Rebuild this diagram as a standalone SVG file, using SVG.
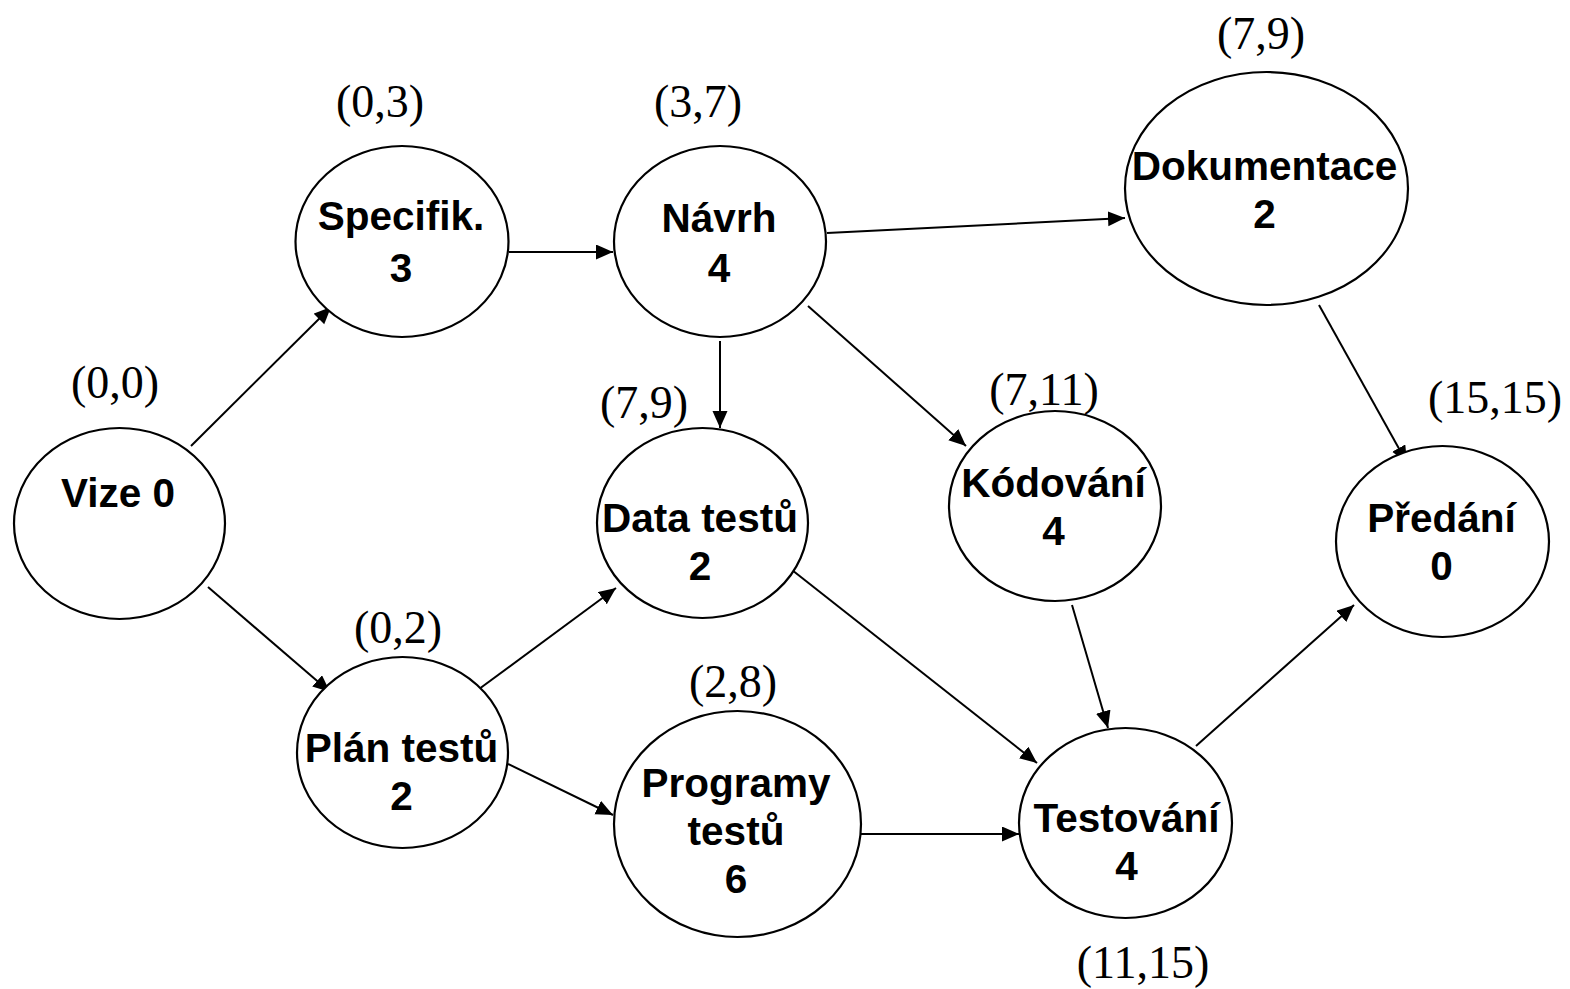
<svg xmlns="http://www.w3.org/2000/svg" width="1570" height="989" viewBox="0 0 1570 989">
<style>
.n{fill:#fff;stroke:#000;stroke-width:2.2}
.t{font-family:"Liberation Sans",Arial,sans-serif;font-weight:bold;font-size:40.5px;text-anchor:middle;fill:#000}
.l{font-family:"Liberation Serif","Times New Roman",serif;font-size:46px;text-anchor:middle;fill:#000}
.c line{stroke:#000;stroke-width:2;marker-end:url(#a)}
</style>
<defs>
<marker id="a" markerUnits="userSpaceOnUse" markerWidth="18" markerHeight="16" refX="17" refY="7.5" orient="auto">
<path d="M0,0 L17,7.5 L0,15 z" fill="#000"/>
</marker>
</defs>
<rect width="1570" height="989" fill="#fff"/>
<g class="c" id="connectors">
<line x1="191" y1="446" x2="331" y2="307"/>
<line x1="208" y1="587" x2="330" y2="692"/>
<line x1="509" y1="252" x2="613" y2="252"/>
<line x1="827" y1="233" x2="1125" y2="218"/>
<line x1="720" y1="341" x2="720" y2="428"/>
<line x1="808" y1="306" x2="966" y2="446"/>
<line x1="1319" y1="305" x2="1407" y2="463"/>
<line x1="475" y1="692" x2="616" y2="588"/>
<line x1="508" y1="764" x2="613" y2="815"/>
<line x1="792" y1="570" x2="1037" y2="763"/>
<line x1="1072" y1="605" x2="1108" y2="728"/>
<line x1="861" y1="834" x2="1019" y2="834"/>
<line x1="1196" y1="746" x2="1354" y2="605"/>
</g>
<g id="vize">
<ellipse class="n" cx="119.5" cy="523.5" rx="105.5" ry="95.5"/>
<text class="t" x="118" y="507">Vize 0</text>
<text class="l" x="115" y="398">(0,0)</text>
</g>
<g id="specifik">
<ellipse class="n" cx="402" cy="241.5" rx="106.5" ry="95.5"/>
<text class="t" x="401" y="230">Specifik.</text>
<text class="t" x="401" y="282">3</text>
<text class="l" x="380" y="117">(0,3)</text>
</g>
<g id="navrh">
<ellipse class="n" cx="720" cy="241.5" rx="106" ry="95.5"/>
<text class="t" x="719" y="232">Návrh</text>
<text class="t" x="719" y="282">4</text>
<text class="l" x="698" y="117">(3,7)</text>
</g>
<g id="dokumentace">
<ellipse class="n" cx="1266.5" cy="188.5" rx="141.5" ry="116.5"/>
<text class="t" x="1264.5" y="180">Dokumentace</text>
<text class="t" x="1264.5" y="228">2</text>
<text class="l" x="1261" y="49">(7,9)</text>
</g>
<g id="data-testu">
<ellipse class="n" cx="702.5" cy="523" rx="105.5" ry="95"/>
<text class="t" x="700" y="532">Data testů</text>
<text class="t" x="700" y="580">2</text>
<text class="l" x="644" y="418">(7,9)</text>
</g>
<g id="kodovani">
<ellipse class="n" cx="1055" cy="506" rx="106" ry="95"/>
<text class="t" x="1053.5" y="497">Kódování</text>
<text class="t" x="1053.5" y="545">4</text>
<text class="l" x="1044" y="405">(7,11)</text>
</g>
<g id="predani">
<ellipse class="n" cx="1442.5" cy="541.5" rx="106.5" ry="95.5"/>
<text class="t" x="1441.5" y="532">Předání</text>
<text class="t" x="1441.5" y="580">0</text>
<text class="l" x="1495" y="413">(15,15)</text>
</g>
<g id="plan-testu">
<ellipse class="n" cx="402.5" cy="752.5" rx="105.5" ry="95.5"/>
<text class="t" x="401.5" y="762">Plán testů</text>
<text class="t" x="401.5" y="810">2</text>
<text class="l" x="398" y="643">(0,2)</text>
</g>
<g id="programy-testu">
<ellipse class="n" cx="737.5" cy="824" rx="123.5" ry="113"/>
<text class="t" x="736" y="797">Programy</text>
<text class="t" x="736" y="845">testů</text>
<text class="t" x="736" y="893">6</text>
<text class="l" x="733" y="697">(2,8)</text>
</g>
<g id="testovani">
<ellipse class="n" cx="1125.5" cy="823" rx="106.5" ry="95"/>
<text class="t" x="1126.5" y="832">Testování</text>
<text class="t" x="1126.5" y="880">4</text>
<text class="l" x="1143" y="978">(11,15)</text>
</g>
</svg>
